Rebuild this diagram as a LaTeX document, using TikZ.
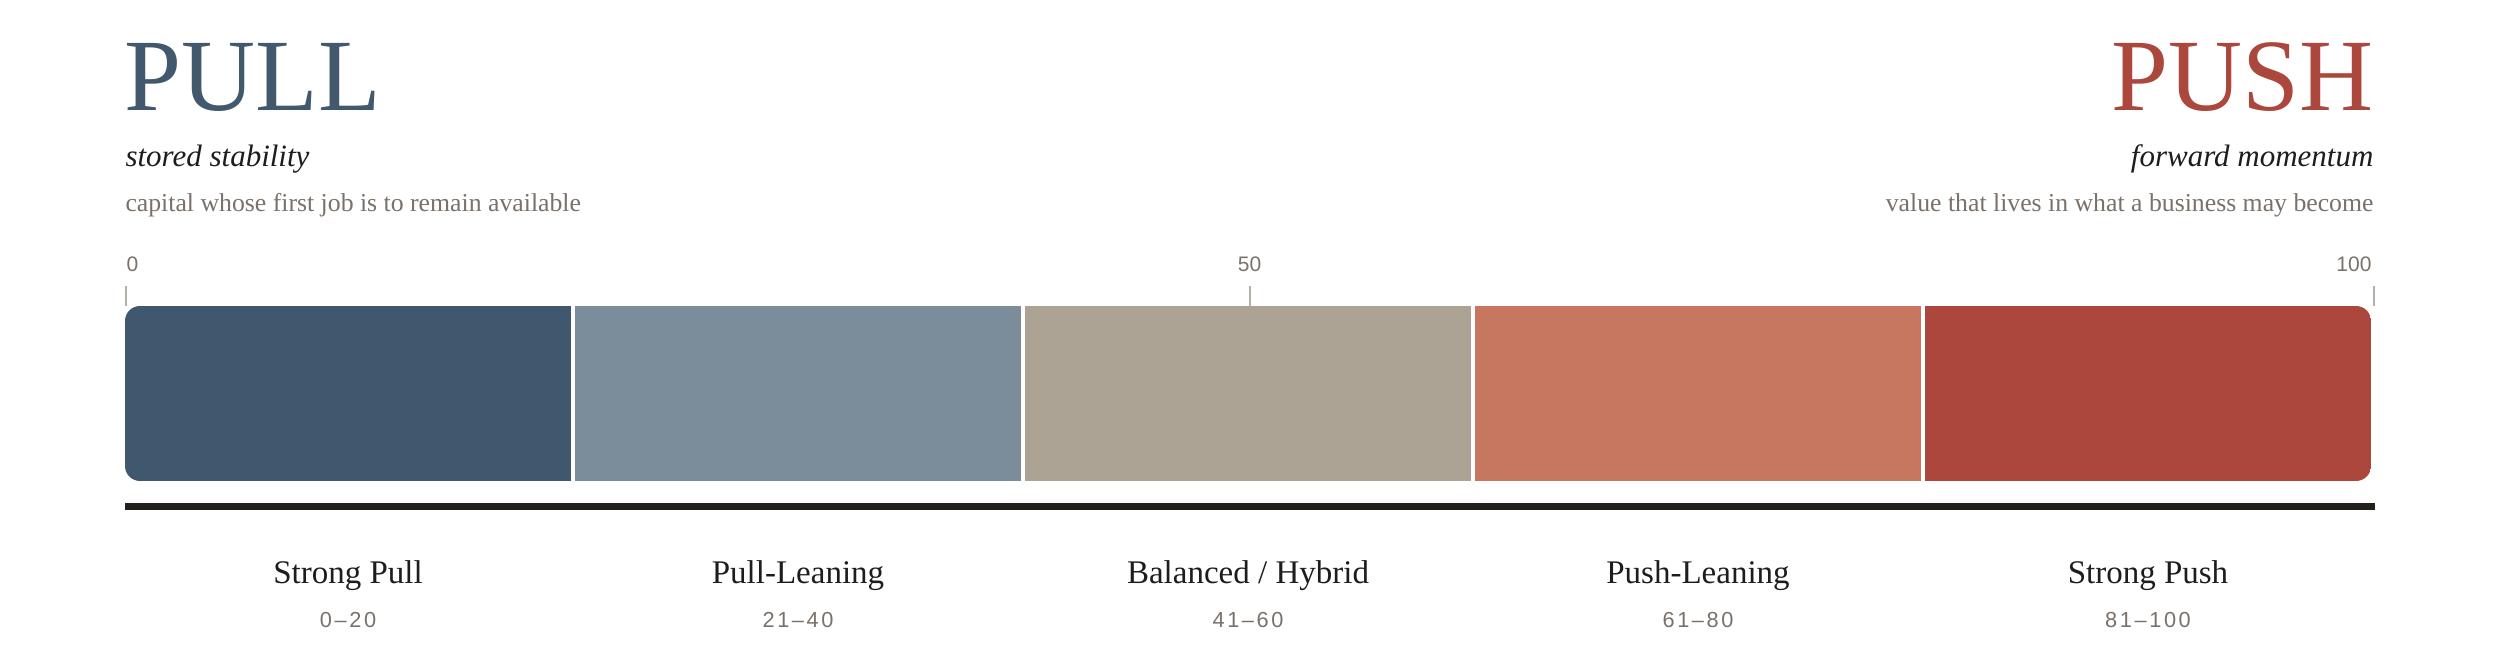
\documentclass[tikz,border=0pt]{standalone}
\usepackage{fontspec}
\setmainfont{Liberation Serif}
\newfontfamily\scalefont{Liberation Sans}
\newfontfamily\rangefont[LetterSpace=12]{Liberation Sans}
\usetikzlibrary{positioning}

\definecolor{pullblue}{HTML}{41586D}
\definecolor{pushred}{HTML}{AC473D}
\definecolor{zoneA}{HTML}{40586D}
\definecolor{zoneB}{HTML}{7B8C9B}
\definecolor{zoneC}{HTML}{ADA395}
\definecolor{zoneD}{HTML}{C7775F}
\definecolor{zoneE}{HTML}{AC473E}
\definecolor{ink}{HTML}{1F1D1B}
\definecolor{muted}{HTML}{7A716A}
\definecolor{tickgray}{HTML}{B5AFA9}
\definecolor{rulecol}{HTML}{24211D}

\tikzset{
  heading/.style={inner sep=0pt,font=\fontsize{41}{42}\selectfont},
  tagline/.style={inner sep=0pt,text=ink,font=\fontsize{12.4}{14}\selectfont\itshape},
  blurb/.style={inner sep=0pt,text=muted,font=\fontsize{10.3}{12}\selectfont},
  ticklabel/.style={inner sep=0pt,text=muted,font=\scalefont\fontsize{8.4}{10}\selectfont},
  zonename/.style={inner sep=0pt,text=ink,font=\fontsize{13.2}{15}\selectfont},
  zonerange/.style={inner sep=0pt,text=muted,font=\rangefont\fontsize{8.7}{10}\selectfont},
}

\begin{document}
\begin{tikzpicture}[x=0.4pt,y=-0.4pt]
  \useasboundingbox (0,0) rectangle (2500,672);

  % the two poles
  \node [heading,text=pullblue,anchor=base west] (pull) at (124,111) {PULL};
  \node [heading,text=pushred,anchor=base east] (push) at (2374,111) {PUSH};
  \node [tagline,anchor=base west] (pulltag) at (125,167) {stored stability};
  \node [tagline,anchor=base east] (pushtag) at (2374,167) {forward momentum};
  \node [blurb,anchor=base west] (pullblurb) at (125,212)
    {capital whose first job is to remain available};
  \node [blurb,anchor=base east] (pushblurb) at (2374,212)
    {value that lives in what a business may become};

  % scale ticks
  \node [ticklabel,anchor=base west] (tick0) at (126,272) {0};
  \node [ticklabel,anchor=base] (tick50) at (1249.5,272) {50};
  \node [ticklabel,anchor=base east] (tick100) at (2372,272) {100};
  \draw [tickgray,line width=0.8pt] (125.5,286) -- (125.5,306)
    (1249.5,286) -- (1249.5,306) (2373.5,286) -- (2373.5,306);

  % the bar
  \begin{scope}
    \clip [rounded corners=6pt] (125,306) rectangle (2371,481);
    \foreach \c [count=\i from 0] in {zoneA,zoneB,zoneC,zoneD,zoneE}
      \fill [\c] ({125+450*\i},306) rectangle ++(446,175);
  \end{scope}

  \coordinate (rulestart) at (125,506.5);
  \coordinate (ruleend) at (2375,506.5);
  \draw [rulecol,line width=2.8pt] (rulestart) -- (ruleend);

  % zone names and ranges
  \foreach \n/\r [count=\i from 0] in
    {Strong Pull/0–20,Pull-Leaning/21–40,{Balanced / Hybrid}/41–60,
     Push-Leaning/61–80,Strong Push/81–100}
  {
    \node [zonename,anchor=base] (zone\i) at ({348+450*\i},583) {\n};
    \node [zonerange,anchor=base] (range\i) at ({348+450*\i},627) {\r};
  }
\end{tikzpicture}
\end{document}
